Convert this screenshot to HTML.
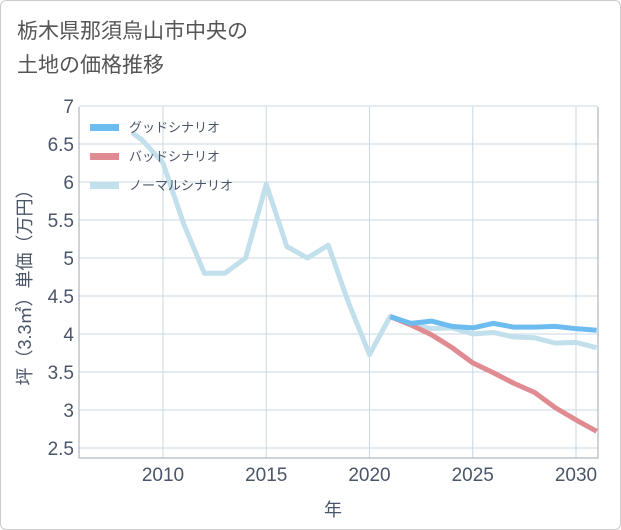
<!DOCTYPE html>
<html><head><meta charset="utf-8"><style>
body{margin:0;background:#fff;}
#wrap{position:relative;width:619px;height:528px;border:1px solid #ccc;border-radius:6px;background:#fff;font-family:"Liberation Sans","Noto Sans CJK JP",sans-serif;overflow:hidden}
#title{position:absolute;left:16px;top:14px;font-size:21px;line-height:34px;color:#555;}
svg{position:absolute;left:0;top:0}
</style></head><body>
<div id="wrap">
<div id="title">栃木県那須烏山市中央の<br>土地の価格推移</div>
<svg id="chart" width="621" height="530"></svg>
</div>
<script>
const xTicks=[2010,2015,2020,2025,2030];
const yTicks=[2.5,3,3.5,4,4.5,5,5.5,6,6.5,7];
const yTickLabels=["2.5","3","3.5","4","4.5","5","5.5","6","6.5","7"];
const normalYears=[2008.5,2009,2010,2011,2012,2013,2014,2015,2016,2017,2018,2019,2020,2021,2022,2023,2024,2025,2026,2027,2028,2029,2030,2031];
const normalVals=[6.65,6.55,6.25,5.45,4.8,4.8,5.0,5.97,5.15,5.0,5.17,4.4,3.73,4.23,4.13,4.07,4.08,4.0,4.02,3.96,3.95,3.88,3.89,3.82];
const goodYears=[2021,2022,2023,2024,2025,2026,2027,2028,2029,2030,2031];
const goodVals=[4.23,4.14,4.17,4.1,4.08,4.14,4.09,4.09,4.1,4.07,4.05];
const badYears=[2021,2022,2023,2024,2025,2026,2027,2028,2029,2030,2031];
const badVals=[4.23,4.12,3.99,3.82,3.62,3.49,3.35,3.23,3.03,2.87,2.72];
const legendLabels=["グッドシナリオ","バッドシナリオ","ノーマルシナリオ"];

const L=78,R=597,T=106,B=457;
const x=y=>162+(y-2010)*20.65;
const yv=v=>447-(v-2.5)*76;
const svg=document.getElementById('chart');
const NS='http://www.w3.org/2000/svg';
function mk(tag,attrs){const e=document.createElementNS(NS,tag);for(const k in attrs)e.setAttribute(k,attrs[k]);svg.appendChild(e);return e;}
yTicks.forEach((t,i)=>{
  const g=mk('line',{x1:L,x2:R,y1:yv(t),y2:yv(t),stroke:'#c8d8e6','stroke-width':1});
  
  
  const tx=mk('text',{x:L-5,y:yv(t)+7,'text-anchor':'end','font-size':19,fill:'#4a5568'});
  tx.textContent=yTickLabels[i];
  
  
});
xTicks.forEach(t=>{
  const g=mk('line',{x1:x(t),x2:x(t),y1:T,y2:B,stroke:'#c8d8e6','stroke-width':1});
  
  
  const tx=mk('text',{x:x(t),y:B+23,'text-anchor':'middle','font-size':19,fill:'#4a5568'});
  tx.textContent=t;
  
  
});
const ax=mk('path',{d:`M${L},${T}V${B}H${R}V${T}`,fill:'none',stroke:'#9aa8b5','stroke-width':1});


function line(xs,vs,color,name){
  const p=mk('polyline',{points:xs.map((a,i)=>x(a)+','+yv(vs[i])).join(' '),fill:'none',stroke:color,'stroke-width':5,'stroke-linejoin':'round'});
  
  
}
svg.insertAdjacentHTML('beforeend','<clipPath id="cp"><rect x="78" y="106" width="519" height="351"/></clipPath>');
line(normalYears,normalVals,'#c2e0ec','normal-scenario-line');
line(badYears,badVals,'#e08a92','bad-scenario-line');
line(goodYears,goodVals,'#6dbcf0','good-scenario-line');
svg.querySelectorAll('polyline').forEach(p=>p.setAttribute('clip-path','url(#cp)'));
const lc=['#6dbcf0','#e08a92','#c2e0ec'];
legendLabels.forEach((s,i)=>{
  const yy=126+i*29;
  const r=mk('rect',{x:89,y:yy-3,width:29,height:7,fill:lc[i]});
  
  
  const t=mk('text',{x:128,y:yy+5,'font-size':13,fill:'#4a5568'});
  t.textContent=s;
  
  
});
const xt=mk('text',{x:332,y:515,'text-anchor':'middle','font-size':18,fill:'#4a5568'});
xt.textContent='年';


const yt=mk('text',{x:0,y:0,'text-anchor':'middle','font-size':18,fill:'#4a5568',transform:'translate(30,282) rotate(-90)'});
yt.textContent='坪（3.3㎡）単価（万円）';


</script>
</body></html>
